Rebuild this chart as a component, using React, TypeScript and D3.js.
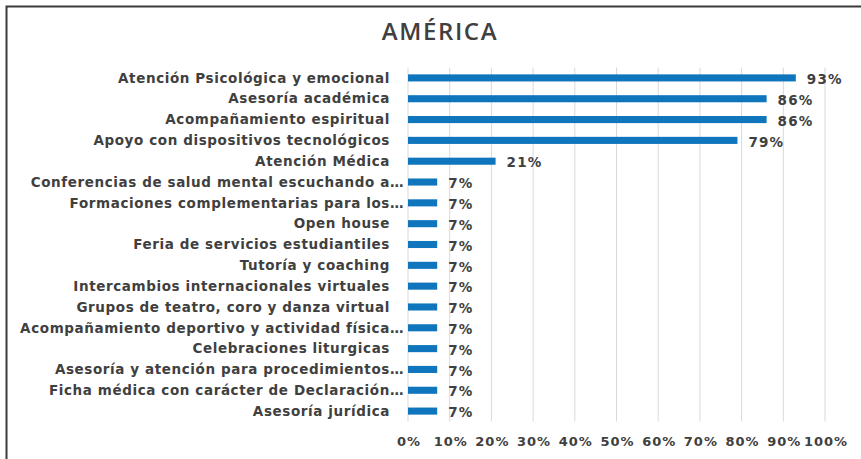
import React from "react";
import * as d3 from "d3";

const categories = [
  "Atención Psicológica y emocional",
  "Asesoría académica",
  "Acompañamiento espiritual",
  "Apoyo con dispositivos tecnológicos",
  "Atención Médica",
  "Conferencias de salud mental escuchando a…",
  "Formaciones complementarias para los…",
  "Open house",
  "Feria de servicios estudiantiles",
  "Tutoría y coaching",
  "Intercambios internacionales virtuales",
  "Grupos de teatro, coro y danza virtual",
  "Acompañamiento deportivo y actividad física…",
  "Celebraciones liturgicas",
  "Asesoría y atención para procedimientos…",
  "Ficha médica con carácter de Declaración…",
  "Asesoría jurídica",
];
const values = [0.93, 0.86, 0.86, 0.79, 0.21, 0.07, 0.07, 0.07, 0.07, 0.07, 0.07, 0.07, 0.07, 0.07, 0.07, 0.07, 0.07];
const ticks = [0, 0.1, 0.2, 0.3, 0.4, 0.5, 0.6, 0.7, 0.8, 0.9, 1.0];
const title = "AMÉRICA";

const W = 861;
const H = 459;
const LEFT = 408;
const RIGHT = 825;
const TOP = 67.5;
const BOTTOM = 421.5;

export default function App() {
  const x = d3.scaleLinear().domain([0, 1]).range([LEFT, RIGHT]);
  const y = d3.scaleBand<string>().domain(categories).range([TOP, BOTTOM]).paddingInner(0.66).paddingOuter(0.33);
  const fmt = d3.format(".0%");
  const font = "'DejaVu Sans', Verdana, sans-serif";
  const textColor = "#404040";
  return (
    <svg width={W} height={H} style={{ position: "absolute", left: 0, top: 0, background: "#fff" }}>
      <rect x={6.5} y={6.5} width={W + 10} height={H + 10} fill="#fff" stroke="#3a3a3a" strokeWidth={2} />
      <text x={440} y={40} textAnchor="middle" fontFamily="'Open Sans', sans-serif" fontWeight={600} fontSize={24} letterSpacing={1.6} fill={textColor}>
        {title}
      </text>
      {ticks.map((t) => (
        <line key={"g" + t} x1={x(t)} x2={x(t)} y1={TOP} y2={BOTTOM} stroke="#d9d9d9" strokeWidth={1} />
      ))}
      {categories.map((c, i) => {
        const yy = y(c)!;
        const bh = y.bandwidth();
        const ell = c.endsWith("…");
        return (
          <g key={c}>
            <rect x={x(0)} y={yy} width={x(values[i]) - x(0)} height={bh} fill="#0f75bc" />
            <text x={ell ? 404 : 390} y={yy + bh / 2} dy="0.35em" textAnchor="end" fontFamily={font} fontWeight="bold" fontSize={13.5} letterSpacing={0.6} fill={textColor}>
              {c}
            </text>
            <text x={x(values[i]) + 11} y={yy + bh / 2 + 1.5} dy="0.35em" textAnchor="start" fontFamily={font} fontWeight="bold" fontSize={13.5} letterSpacing={1.2} fill={textColor}>
              {fmt(values[i])}
            </text>
          </g>
        );
      })}
      {ticks.map((t) => (
        <text key={"t" + t} x={x(t) + 1} y={441} dy="0.35em" textAnchor="middle" fontFamily={font} fontWeight="bold" fontSize={13} letterSpacing={1} fill={textColor}>
          {fmt(t)}
        </text>
      ))}
    </svg>
  );
}
